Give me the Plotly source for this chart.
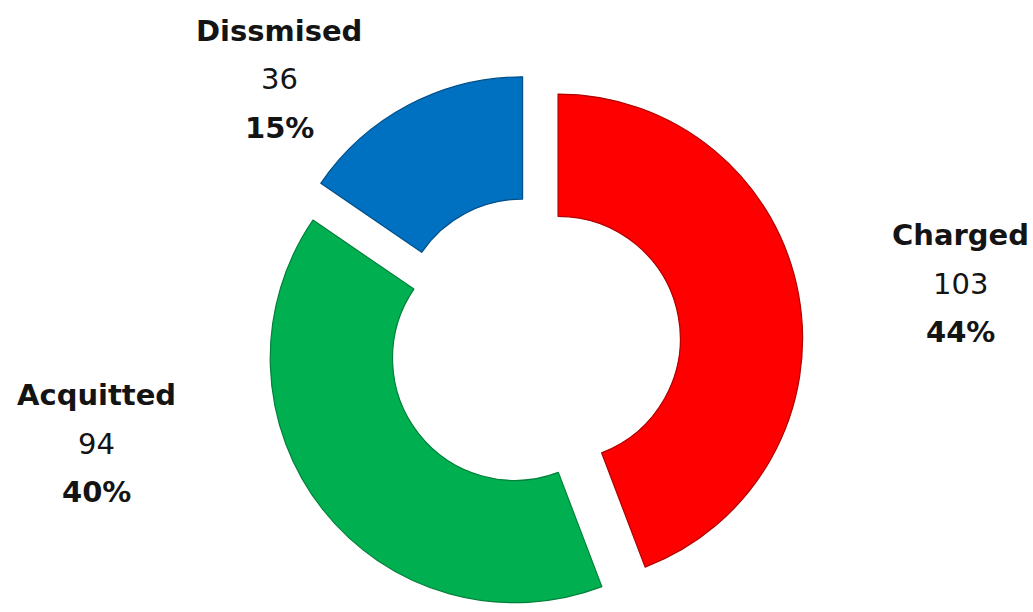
import plotly.graph_objects as go

# Case outcomes
categories = ["Charged", "Acquitted", "Dissmised"]
counts = [103, 94, 36]

# Slice fill and edge colours
slice_colors = ["#FF0000", "#00B050", "#0070C0"]
edge_colors = ["#B00000", "#00803A", "#004F8A"]

W, H = 1033, 612
TOP = 74  # top margin; the ring fills the rest of the height
CX = 534  # horizontal centre of the ring

total = sum(counts)
percents = [round(v / total * 100) for v in counts]

fig = go.Figure()
fig.add_trace(go.Pie(
    labels=categories,
    values=counts,
    hole=0.5,
    pull=0.1,
    sort=False,
    direction="clockwise",
    rotation=0,
    textinfo="none",
    hoverinfo="label+value+percent",
    marker=dict(colors=slice_colors, line=dict(color=edge_colors, width=1.2)),
    domain=dict(x=[(CX - 290) / W, (CX + 290) / W], y=[0, 1]),
    showlegend=False,
))


def to_paper(px, py):
    return px / W, (H - py) / (H - TOP)


# Label block placement (centre x, centre y of the first line) and line gap
label_pos = {
    "Charged": (960, 235),
    "Acquitted": (96, 395),
    "Dissmised": (279, 31),
}
line_gap = 48.5
font_family = "DejaVu Sans, sans-serif"
font_size = 29
text_color = "#141414"

for name, cnt, pct in zip(categories, counts, percents):
    cx, cy = label_pos[name]
    lines = [f"<b>{name}</b>", f"{cnt}", f"<b>{pct}%</b>"]
    for i, t in enumerate(lines):
        x, y = to_paper(cx, cy + i * line_gap)
        fig.add_annotation(
            x=x, y=y, xref="paper", yref="paper",
            text=t, showarrow=False,
            xanchor="center", yanchor="middle",
            font=dict(family=font_family, size=font_size, color=text_color),
        )

fig.update_layout(
    width=W, height=H,
    margin=dict(l=0, r=0, t=TOP, b=0),
    paper_bgcolor="white",
    plot_bgcolor="white",
)

fig.write_html("out.html")
